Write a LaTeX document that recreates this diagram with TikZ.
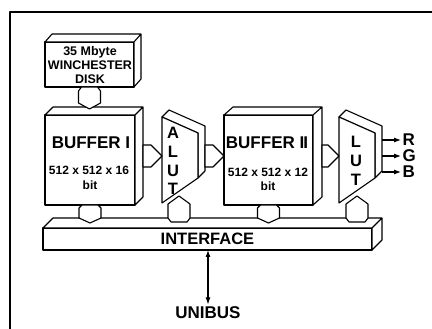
\documentclass[tikz,border=0pt]{standalone}
\usepackage{fontspec}
\setmainfont{Liberation Sans}
\usetikzlibrary{arrows.meta}

\begin{document}
\begin{tikzpicture}[x=1pt,y=-1pt,line width=1.1pt,line join=round,
  face/.style={draw,fill=white,outer sep=0pt,inner sep=0pt},
  plug/.style={draw,fill=white},
  big/.style={font=\bfseries\fontsize{17}{17}\selectfont,inner sep=0pt},
  small/.style={font=\bfseries\fontsize{12}{14}\selectfont,inner sep=0pt,align=center},
  tall/.style={font=\bfseries\fontsize{16.5}{18.7}\selectfont,inner sep=0pt,align=center},
  >={Latex[length=7pt,width=5pt]}]
\useasboundingbox (0,0) rectangle (432,329);
\draw[line width=1.4pt] (432,12) -| (10,329);

% blocks
\node[face,minimum width=89pt,minimum height=45pt] (disk) at (89.5,64.5) {};
\draw[face] (disk.north west) -- ++(7,-8) -- ++(89,0) -- ++(0,45) -- (disk.south east) -- (disk.north east) -- cycle (disk.north east) -- ++(7,-8);
\node[face,minimum width=90pt,minimum height=90pt] (buf1) at (90,160) {};
\draw[face] (buf1.north west) -- ++(8,-8) -- ++(90,0) -- ++(0,90) -- (buf1.south east) -- (buf1.north east) -- cycle (buf1.north east) -- ++(8,-8);
\node[face,minimum width=89pt,minimum height=90pt] (buf2) at (268.5,160) {};
\draw[face] (buf2.north west) -- ++(9,-8) -- ++(89,0) -- ++(0,90) -- (buf2.south east) -- (buf2.north east) -- cycle (buf2.north east) -- ++(9,-8);
\node[face,minimum width=329pt,minimum height=22pt,font=\bfseries\fontsize{16.5}{16.5}\selectfont] (iface) at (207.5,239) {INTERFACE};
\draw[face] (iface.north west) -- ++(10,-10) -- ++(329,0) -- ++(0,22) -- (iface.south east) -- (iface.north east) -- cycle (iface.north east) -- ++(10,-10);

\coordinate (alu) at (162,117);
\draw[plug] (alu) -- ++(7,-7) -- ++(36,16) -- ++(0,45) -- ++(-7,7) -- ++(0,-45) -- cycle;
\draw[plug] (alu) -- ++(36,16) -- ++(0,45) -- ++(-36,25) -- cycle;
\coordinate (lut) at (339,117);
\draw[plug] (lut) -- ++(7,-7) -- ++(36,16) -- ++(0,45) -- ++(-7,7) -- ++(0,-45) -- cycle;
\draw[plug] (lut) -- ++(36,16) -- ++(0,45) -- ++(-36,25) -- cycle;
\coordinate (lutside) at (382,156);

% plugs
\draw[plug] (disk.south) ++(-11,4) -- ++(3,-4) -- ++(16,0) -- ++(3,4) -- ++(0,12) -- ++(-11,6) -- ++(-11,-6) -- cycle;
\draw[plug] (buf1.south) ++(-11,3) -- ++(3,-3) -- ++(16,0) -- ++(3,3) -- ++(0,10) -- ++(-11,5) -- ++(-11,-5) -- cycle;
\draw[plug] (buf2.south) ++(-11,3) -- ++(3,-3) -- ++(16,0) -- ++(3,3) -- ++(0,10) -- ++(-11,5) -- ++(-11,-5) -- cycle;
\draw[plug] (alu) ++(6,101) -- ++(0,-14) -- ++(11,-8) -- ++(11,8) -- ++(0,14) -- ++(-3,4) -- ++(-16,0) -- cycle;
\draw[plug] (lut) ++(7,101) -- ++(0,-14) -- ++(11,-8) -- ++(11,8) -- ++(0,14) -- ++(-3,4) -- ++(-16,0) -- cycle;
\draw[plug] (buf1.east) ++(8,-4) -- ++(0,-11) -- ++(8,0) -- ++(11,11) -- ++(-11,11) -- ++(-8,0) -- cycle;
\draw[plug] (alu) ++(43,39) -- ++(0,-11) -- ++(8,0) -- ++(11,11) -- ++(-11,11) -- ++(-8,0) -- cycle;
\draw[plug] (buf2.east) ++(9,-4) -- ++(0,-11) -- ++(6,0) -- ++(11,11) -- ++(-11,11) -- ++(-6,0) -- cycle;

% labels
\node[small,font=\bfseries\fontsize{12.5}{14}\selectfont] (disklbl) at (90,65) {35 Mbyte\\WINCHESTER\\DISK};
\node[big] (buf1name) at (91,143) {BUFFER I};
\node[small] (buf1size) at (89,170) {512 x 512 x 16};
\node[small] (buf1bits) at (90,185) {bit};
\node[big] (buf2name) at (267,143) {BUFFER I\kern-1ptI};
\node[small] (buf2size) at (268,172) {512 x 512 x 12};
\node[small] (buf2bits) at (268,186) {bit};
\node[tall] (alulbl) at (173,161) {A\\L\\U\\T};
\node[tall] (lutlbl) at (356,161) {L\\U\\T};
\node[big,anchor=west] (red) at (402,140) {R};
\node[big,anchor=west] (green) at (402,156) {G};
\node[big,anchor=west] (blue) at (402,172) {B};
\node[big] (unibus) at (208,313) {UNIBUS};

\draw[->] (red.west -| lutside) -- ([xshift=-1pt]red.west);
\draw[->] (green.west -| lutside) -- ([xshift=-1pt]green.west);
\draw[->] (blue.west -| lutside) -- ([xshift=-1pt]blue.west);
\draw[<->] (iface.south -| unibus) -- ([yshift=2pt]unibus.north);
\end{tikzpicture}
\end{document}
